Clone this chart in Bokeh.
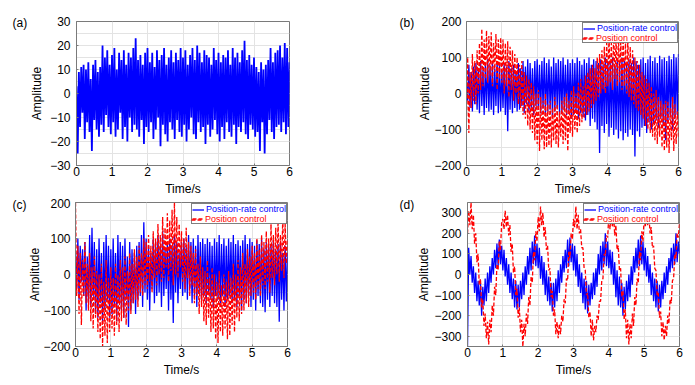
from bokeh.plotting import figure
from bokeh.models import Range1d, SingleIntervalTicker, Legend, LegendItem
from bokeh.layouts import column, row
from bokeh.embed import file_html
from bokeh.resources import INLINE

# ---------------- data ----------------
N = 181
time_s = [i / 30 for i in range(N)]

a_signal = [
    3, -25, 9, -14, 11, -8, 12, -19, 10, -12,
    13, -16, 6, -24, 12, -11, 14, -15, 9, -18,
    11, -13, 20, -16, 15, -9, 18, -14, 12, -17,
    16, -12, 19, -18, 10, -15, 17, -8, 14, -19,
    18, -14, 12, -20, 17, -10, 15, -16, 19, -13,
    23, -15, 14, -18, 16, -11, 12, -21, 17, -14,
    19, -16, 13, -12, 17, -19, 11, -15, 18, -10,
    14, -22, 16, -13, 19, -17, 12, -20, 15, -12,
    18, -15, 13, -19, 17, -11, 14, -16, 19, -18,
    15, -13, 18, -20, 12, -15, 16, -10, 19, -17,
    14, -19, 20, -12, 17, -16, 13, -14, 18, -21,
    16, -13, 15, -18, 12, -15, 19, -11, 14, -17,
    17, -20, 13, -14, 16, -19, 15, -12, 18, -16,
    12, -18, 19, -13, 15, -21, 17, -14, 13, -16,
    18, -12, 22, -17, 14, -19, 16, -13, 12, -15,
    15, -18, 11, -16, 9, -24, 13, -12, 10, -25,
    12, -17, 14, -11, 19, -16, 13, -19, 17, -14,
    18, -13, 20, -16, 15, -12, 21, -17, 19, -14,
    13,
]

b_rate = [
    30, -20, 80, -40, 60, -50, 75, -30, 85, -45,
    70, -55, 90, -35, 65, -60, 80, -40, 95, -50,
    75, -45, 85, -60, 70, -35, 90, -55, 80, -50,
    65, -40, 85, -60, 75, -105, 90, -45, 70, -55,
    80, -40, 60, -50, 85, -45, 70, -35, 90, -55,
    75, -30, 95, -50, 85, -40, 70, -60, 90, -35,
    95, -45, 80, -55, 90, -40, 100, -60, 85, -50,
    95, -45, 75, -65, 100, -50, 85, -40, 95, -60,
    90, -55, 100, -45, 80, -60, 95, -50, 85, -70,
    95, -60, 85, -50, 100, -70, 90, -55, 80, -65,
    95, -75, 85, -60, 100, -90, 80, -70, 95, -80,
    90, -100, 85, -165, 95, -90, 80, -110, 100, -85,
    90, -120, 85, -95, 100, -115, 80, -100, 95, -125,
    85, -105, 100, -130, 90, -110, 80, -120, 95, -100,
    85, -115, 100, -175, 90, -105, 80, -120, 95, -95,
    100, -90, 85, -110, 95, -80, 105, -100, 90, -85,
    100, -75, 85, -95, 105, -70, 95, -90, 100, -130,
    90, -80, 105, -65, 95, -100, 110, -70, 100, -60,
    110,
]

b_pos = [
    -80, 100, -110, 60, -40, 110, -20, 90, -30, 120,
    0, 140, 10, 180, 20, 150, 40, 175, 30, 160,
    50, 170, 20, 140, 60, 165, 10, 150, 40, 155,
    30, 150, 0, 140, 20, 145, -10, 130, 10, 120,
    -20, 110, 0, 100, -30, 80, -40, 90, -60, 60,
    -70, 50, -90, 40, -100, 30, -110, 20, -130, 0,
    -140, 10, -160, -10, -130, -20, -155, 0, -150, -30,
    -145, -20, -150, -40, -130, -10, -140, -30, -150, -50,
    -120, -20, -140, -10, -130, 0, -160, -20, -110, 10,
    -120, 20, -100, 0, -110, 30, -90, 40, -80, 20,
    -70, 50, -60, 60, -50, 70, -40, 80, -30, 70,
    -20, 100, -10, 110, 0, 120, 10, 130, 0, 140,
    20, 160, 30, 140, 10, 170, 40, 150, 20, 165,
    30, 150, 10, 160, 20, 140, 0, 155, -10, 130,
    -20, 120, -30, 100, -40, 90, -50, 80, -60, 60,
    -70, 50, -90, 40, -100, 30, -110, 20, -120, 0,
    -130, 10, -140, -10, -120, -20, -150, -30, -160, -20,
    -150, -20, -165, -40, -130, -10, -160, -30, -140, -50,
    -120,
]

c_rate = [
    60, -40, 100, -70, 80, -20, 70, -60, 90, -100,
    50, -80, 110, -90, 130, -60, 90, -110, 70, -120,
    100, -80, 60, -130, 90, -100, 110, -70, 80, -120,
    70, -110, 100, -90, 60, -130, 110, -80, 90, -100,
    80, -120, 100, -70, 50, -146, 90, -100, 70, -80,
    60, -110, 80, -70, 90, -60, 110, -90, 145, -50,
    100, -70, 80, -100, 60, -40, 100, -80, 90, -60,
    110, -50, 80, -90, 120, -60, 70, -40, 90, -100,
    100, -70, 80, -135, 110, -50, 90, -80, 60, -40,
    90, -60, 100, -50, 80, -70, 110, -40, 90, -80,
    100, -60, 80, -90, 110, -50, 90, -70, 100, -60,
    85, -80, 100, -50, 90, -70, 80, -90, 100, -60,
    90, -70, 110, -80, 85, -60, 100, -90, 80, -70,
    100, -60, 90, -80, 110, -70, 85, -90, 95, -60,
    80, -100, 95, -70, 110, -80, 85, -60, 100, -90,
    90, -70, 80, -100, 95, -60, 85, -80, 100, -90,
    70, -105, 90, -70, 85, -90, 80, -60, 95, -80,
    70, -90, 85, -131, 90, -70, 60, -100, 80, -75,
    60,
]

c_pos = [
    200, -60, 80, -110, 60, -140, 40, -60, 90, -80,
    30, -100, 60, -130, 20, -150, 50, -120, 10, -160,
    0, -180, 30, -200, -20, -170, 40, -190, -10, -160,
    20, -150, -10, -170, 30, -140, 0, -160, 40, -130,
    20, -120, 50, -140, 10, -100, 60, -110, 30, -80,
    70, -70, 50, -90, 80, -50, 60, -60, 100, -30,
    90, -40, 110, -20, 80, -50, 120, -10, 100, -30,
    140, 0, 110, -20, 160, -10, 130, 20, 170, -20,
    150, 10, 180, -30, 200, 0, 160, -10, 140, 20,
    120, -20, 100, -40, 130, -10, 90, -60, 80, -30,
    60, -80, 70, -60, 30, -110, 50, -90, 20, -130,
    10, -140, 40, -120, -10, -160, 20, -150, 0, -180,
    -20, -190, 10, -160, -30, -170, 0, -150, -20, -180,
    10, -170, -10, -140, 30, -160, 0, -120, 40, -130,
    20, -110, 60, -100, 30, -80, 70, -90, 50, -60,
    80, -50, 60, -70, 100, -40, 70, -60, 110, -30,
    90, -40, 120, -20, 100, -50, 140, -10, 110, -30,
    130, 0, 150, -20, 110, 10, 160, -10, 140, 30,
    100,
]

d_rate = [
    -360, 130, 0, 90, -40, 40, -90, 10, -130, -30,
    -150, -40, -200, -60, -150, -20, -130, 10, -90, 40,
    -40, 80, 0, 120, 30, 150, 40, 170, 50, 140,
    20, 120, -10, 80, -50, 50, -90, 10, -120, -20,
    -160, -30, -170, -50, -160, -30, -120, 10, -100, 40,
    -50, 90, 0, 130, 20, 160, 50, 190, 40, 150,
    30, 130, -20, 90, -50, 60, -100, 20, -130, -10,
    -150, -40, -180, -40, -160, -20, -130, 20, -90, 50,
    -40, 90, 10, 120, 30, 170, 40, 180, 60, 150,
    20, 140, -10, 100, -60, 50, -90, 10, -140, -20,
    -170, -30, -190, -50, -150, -40, -120, 10, -100, 30,
    -60, 100, 0, 140, 20, 160, 50, 200, 40, 160,
    30, 120, 0, 110, -50, 60, -110, 20, -150, -10,
    -160, -40, -200, -60, -170, -30, -130, 0, -110, 40,
    -50, 90, 10, 130, 30, 170, 40, 190, 50, 160,
    20, 130, -10, 90, -40, 50, -100, 10, -130, -20,
    -160, -30, -180, -50, -160, -30, -120, 10, -90, 40,
    -50, 80, 10, 130, 30, 150, 50, 200, 60, 160,
    100,
]

d_pos = [
    200, 310, 240, 350, 220, 290, 150, 200, 60, 100,
    -50, -20, -160, -120, -250, -190, -310, -230, -340, -220,
    -280, -150, -200, -60, -100, 50, 20, 160, 120, 250,
    270, 220, 310, 230, 290, 190, 240, 110, 150, 10,
    40, -100, -70, -210, -160, -280, -220, -350, -240, -300,
    -190, -240, -110, -150, -10, -40, 110, 70, 210, 160,
    280, 210, 330, 240, 300, 180, 230, 120, 140, 20,
    30, -110, -80, -200, -170, -290, -230, -310, -240, -290,
    -200, -230, -120, -140, -20, -30, 110, 80, 200, 170,
    270, 230, 330, 220, 290, 200, 220, 130, 130, 30,
    20, -100, -90, -210, -180, -300, -220, -320, -250, -280,
    -200, -220, -130, -130, -30, -20, 100, 90, 190, 180,
    290, 220, 330, 230, 300, 190, 240, 120, 140, 20,
    30, -110, -80, -220, -170, -310, -220, -340, -240, -310,
    -190, -250, -110, -150, -20, -40, 110, 70, 210, 160,
    280, 230, 320, 240, 290, 200, 230, 130, 140, 30,
    20, -100, -90, -210, -180, -300, -230, -320, -250, -300,
    -200, -240, -120, -140, -30, -20, 100, 80, 200, 180,
    250,
]

panel_tags = ["(a)", "(b)", "(c)", "(d)"]
legend_labels = ["Position-rate control", "Position control"]
x_label = "Time/s"
y_label = "Amplitude"

# ---------------- styling ----------------
FONT = "Liberation Sans"
BLUE = "#0000ff"
RED = "#ff0000"
GRID = "#e3e3e3"
FRAME = "#7a7a7a"


def make_fig(left, right, top, bottom, fw, ymin, ymax, yint,
             tick_standoff, label_standoff, tag, tag_offset, tag_standoff):
    p = figure(frame_width=fw, frame_height=144, output_backend="svg",
               toolbar_location=None, tools="",
               x_range=Range1d(0, 6), y_range=Range1d(ymin, ymax),
               min_border_left=left, min_border_right=right,
               min_border_top=top, min_border_bottom=bottom)
    p.xaxis.ticker = SingleIntervalTicker(interval=1, num_minor_ticks=2)
    p.yaxis.ticker = SingleIntervalTicker(interval=yint, num_minor_ticks=2)
    p.xgrid.grid_line_color = GRID
    p.xgrid.minor_grid_line_color = None
    p.ygrid.grid_line_color = GRID
    p.ygrid.minor_grid_line_color = GRID
    p.outline_line_color = FRAME
    p.outline_line_width = 1
    p.background_fill_color = "white"
    p.border_fill_color = "white"
    for ax in (p.xaxis[0], p.yaxis[0]):
        ax.axis_line_color = FRAME
        ax.major_tick_line_color = FRAME
        ax.major_tick_in = 2
        ax.major_tick_out = 0
        ax.minor_tick_line_color = None
        ax.minor_tick_in = 0
        ax.minor_tick_out = 0
        ax.major_label_text_font = FONT
        ax.major_label_text_font_size = "12px"
        ax.major_label_text_color = "black"
        ax.axis_label_text_font = FONT
        ax.axis_label_text_font_size = "12px"
        ax.axis_label_text_font_style = "normal"
        ax.axis_label_text_color = "black"
    p.xaxis.axis_label = x_label
    p.xaxis.major_label_standoff = 1
    p.xaxis.axis_label_standoff = 3
    p.yaxis.axis_label = y_label
    p.yaxis.major_label_standoff = tick_standoff
    p.yaxis.axis_label_standoff = label_standoff
    # panel tag as the figure title, pulled to the left of the frame
    p.title.text = tag
    p.title.align = "left"
    p.title.vertical_align = "bottom"
    p.title.offset = tag_offset
    p.title.standoff = tag_standoff
    p.title.text_font = FONT
    p.title.text_font_size = "12px"
    p.title.text_font_style = "normal"
    p.title.text_color = "black"
    return p


def add_legend(p, r_rate, r_pos, loc):
    common = dict(label_text_font=FONT, label_text_font_size="9px",
                  label_height=9, glyph_height=9, glyph_width=12,
                  label_standoff=2, spacing=0, margin=0, padding=0)
    leg_a = Legend(items=[LegendItem(label=legend_labels[0], renderers=[r_rate]),
                          LegendItem(label=" ", renderers=[r_pos])],
                   location=loc, border_line_color="black",
                   border_line_width=1, background_fill_color="white",
                   background_fill_alpha=1, label_text_color=BLUE, **common)
    leg_b = Legend(items=[LegendItem(label=legend_labels[1], renderers=[r_pos])],
                   location=loc, border_line_color=None,
                   background_fill_alpha=0, label_text_color=RED, **common)
    p.add_layout(leg_a)
    p.add_layout(leg_b)


# (a)
pa = make_fig(76, 56, 21, 32, 213, -30, 30, 10, 6, 3, panel_tags[0], -64, -16)
pa.line(time_s, a_signal, line_color=BLUE, line_width=1.8)

# (b)
pb = make_fig(121, 10, 21, 32, 212, -200, 200, 100, 5, -1, panel_tags[1], -67, -16)
rb1 = pb.line(time_s, b_rate, line_color=BLUE, line_width=1.3)
rb2 = pb.line(time_s, b_pos, line_color=RED, line_width=1.3, line_dash="4 2")
add_legend(pb, rb1, rb2, (116, 122))

# (c)
pc = make_fig(75, 58, 4, 32, 212, -200, 200, 100, 5, -2, panel_tags[2], -63, -18)
rc1 = pc.line(time_s, c_rate, line_color=BLUE, line_width=1.3)
rc2 = pc.line(time_s, c_pos, line_color=RED, line_width=1.3, line_dash="4 2")
add_legend(pc, rc1, rc2, (116, 122))

# (d)
pd = make_fig(122, 9, 4, 32, 212, -350, 350, 100, 6, 0, panel_tags[3], -68, -18)
rd1 = pd.line(time_s, d_rate, line_color=BLUE, line_width=1.3)
rd2 = pd.line(time_s, d_pos, line_color=RED, line_width=1.3, line_dash="4 2")
add_legend(pd, rd1, rd2, (116, 122))

layout = column(row(pa, pb), row(pc, pd))
open("out.html", "w").write(file_html(layout, INLINE))
